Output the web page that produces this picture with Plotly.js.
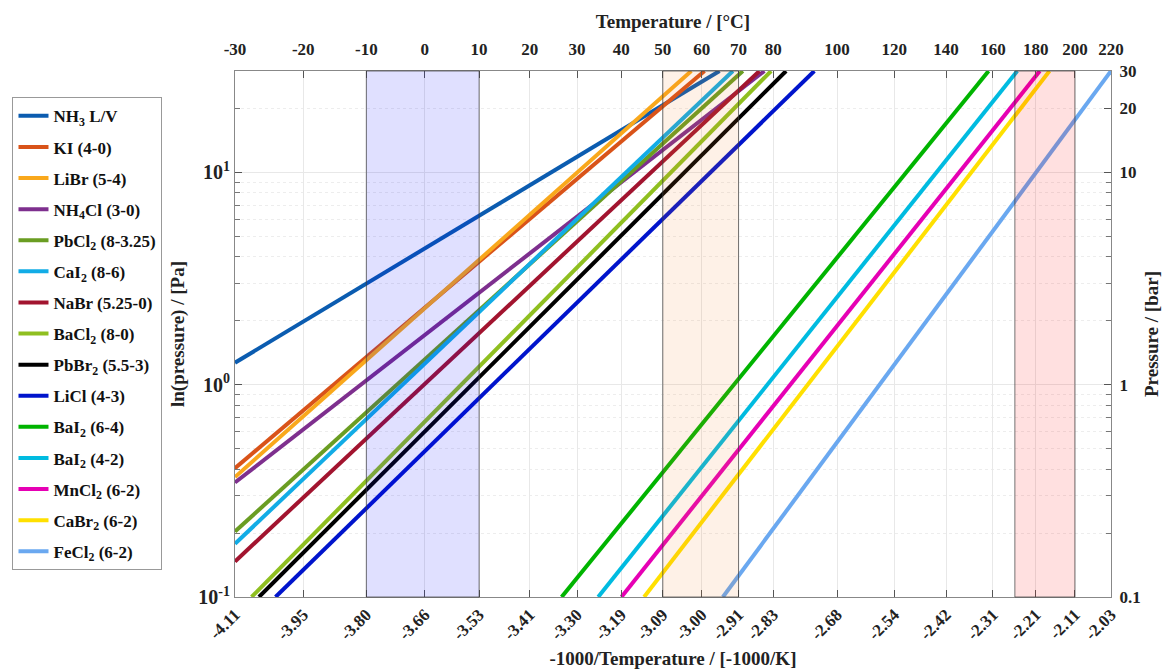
<!DOCTYPE html>
<html>
<head>
<meta charset="utf-8">
<script src="https://cdn.plot.ly/plotly-3.0.1.min.js"></script>
<style>html,body{margin:0;padding:0;background:#fff;}#chart{width:1162px;height:672px;}</style>
</head>
<body>
<div id="chart"></div>
<script>
// ---- data ----
const seriesNames = ['NH<sub>3</sub> L/V', 'KI (4-0)', 'LiBr (5-4)', 'NH<sub>4</sub>Cl (3-0)',
  'PbCl<sub>2</sub> (8-3.25)', 'CaI<sub>2</sub> (8-6)', 'NaBr (5.25-0)', 'BaCl<sub>2</sub> (8-0)',
  'PbBr<sub>2</sub> (5.5-3)', 'LiCl (4-3)', 'BaI<sub>2</sub> (6-4)', 'BaI<sub>2</sub> (4-2)',
  'MnCl<sub>2</sub> (6-2)', 'CaBr<sub>2</sub> (6-2)', 'FeCl<sub>2</sub> (6-2)'];
// start / end points of each line: x = -1000/T [-1000/K], p = pressure [bar]
const xStart = [-4.1127, -4.1127, -4.1127, -4.1127, -4.1127, -4.1127, -4.1127, -4.0733,
  -4.0557, -4.0163, -3.3354, -3.2483, -3.1930, -3.1391, -2.9515];
const xEnd = [-2.9595, -2.9952, -3.0267, -2.8527, -2.9040, -2.9277, -2.8645, -2.8367,
  -2.8011, -2.7339, -2.3191, -2.2509, -2.1972, -2.1742, -2.0278];
const pStart = [1.269, 0.404, 0.367, 0.346, 0.2035, 0.178, 0.147, 0.1, 0.1, 0.1,
  0.1, 0.1, 0.1, 0.1, 0.1];
const pEnd = [30, 30, 30, 30, 30, 30, 30, 30, 30, 30, 30, 30, 30, 30, 30];

// axis ticks
const tempTicksC = [-30, -20, -10, 0, 10, 20, 30, 40, 50, 60, 70, 80, 100, 120, 140, 160, 180, 200, 220];
const invTLabels = ['-4.11', '-3.95', '-3.80', '-3.66', '-3.53', '-3.41', '-3.30', '-3.19', '-3.09',
  '-3.00', '-2.91', '-2.83', '-2.68', '-2.54', '-2.42', '-2.31', '-2.21', '-2.11', '-2.03'];
const leftTickVals = [0.1, 1, 10];
const leftTickText = ['10<sup>-1</sup>', '10<sup>0</sup>', '10<sup>1</sup>'];
const rightTickVals = [0.1, 1, 10, 20, 30];
const rightTickText = ['0.1', '1', '10', '20', '30'];
const minorVals = [0.2, 0.3, 0.4, 0.5, 0.6, 0.7, 0.8, 0.9, 2, 3, 4, 5, 6, 7, 8, 9, 20];
// shaded temperature windows [°C]
const bandsC = [[-10, 10], [50, 70], [170, 200]];
const tempRangeC = [-30, 220];
const pRange = [0.1, 30];

// ---- styles ----
const colors = ['#0b5cb0', '#d95319', '#f9a81c', '#7e2f8e', '#6a9d22', '#12ace6', '#a2142f',
  '#8fbf20', '#000000', '#0014cc', '#00b400', '#00bbe0', '#e600b4', '#ffe000', '#6aa8f0'];
const bandFill = ['rgba(0,0,255,0.12)', 'rgba(245,130,40,0.11)', 'rgba(255,0,0,0.12)'];

const toInv = c => -1000 / (c + 273.15);
const tickPos = tempTicksC.map(toInv);
const xr = tempRangeC.map(toInv);
const yr = pRange.map(Math.log10);

const FONT = 'Liberation Serif, Times New Roman, serif';

const traces = seriesNames.map((n, i) => ({
  type: 'scatter', mode: 'lines', name: n,
  x: [xStart[i], xEnd[i]], y: [pStart[i], pEnd[i]],
  line: {color: colors[i], width: 4},
  legendgroup: 'g' + i, hoverinfo: 'skip'
}));
// invisible helper traces so the secondary axes are drawn
traces.push({type: 'scatter', mode: 'none', x: xr, y: pRange, xaxis: 'x2', yaxis: 'y', showlegend: false, hoverinfo: 'skip'});
traces.push({type: 'scatter', mode: 'none', x: xr, y: pRange, xaxis: 'x', yaxis: 'y2', showlegend: false, hoverinfo: 'skip'});

const shapes = bandsC.map((b, i) => ({
  type: 'rect', xref: 'x', yref: 'paper', x0: toInv(b[0]), x1: toInv(b[1]), y0: 0, y1: 1,
  fillcolor: bandFill[i], line: {color: 'rgba(60,60,60,0.7)', width: 1}, layer: 'above'
}));

const tickFont = {family: FONT, size: 17, color: '#222', weight: 'bold'};
const titleFont = {family: FONT, size: 19, color: '#222', weight: 'bold'};

const layout = {
  width: 1162, height: 672,
  margin: {l: 233, r: 51, t: 71, b: 75, pad: 0},
  paper_bgcolor: '#fff', plot_bgcolor: '#fff',
  font: {family: FONT, size: 16, color: '#222', weight: 'bold'},
  showlegend: true,
  legend: {x: -0.254, xanchor: 'left', y: 0.95, yanchor: 'top',
    bordercolor: '#999', borderwidth: 1, bgcolor: '#fff',
    font: {family: FONT, size: 17, color: '#111', weight: 'bold'},
    traceorder: 'grouped', tracegroupgap: 6, itemwidth: 30},
  xaxis: {range: xr, tickvals: tickPos, ticktext: invTLabels, tickangle: -45,
    ticks: 'inside', ticklen: 7, tickcolor: '#555', showline: true, linecolor: '#888', linewidth: 1,
    showgrid: true, gridcolor: '#e8e8e8', zeroline: false, tickfont: tickFont,
    title: {text: '-1000/Temperature / [-1000/K]', font: titleFont, standoff: 8}},
  xaxis2: {range: xr, overlaying: 'x', side: 'top', tickvals: tickPos, ticktext: tempTicksC.map(String),
    ticks: 'inside', ticklen: 7, tickcolor: '#555', showline: true, linecolor: '#888', linewidth: 1,
    ticklabelstandoff: 8,
    showgrid: false, zeroline: false, tickfont: tickFont,
    title: {text: 'Temperature / [°C]', font: titleFont, standoff: 6}},
  yaxis: {type: 'log', range: yr, tickvals: leftTickVals, ticktext: leftTickText,
    ticks: 'inside', ticklen: 7, tickcolor: '#555', showline: true, linecolor: '#888', linewidth: 1,
    showgrid: true, gridcolor: '#e8e8e8', zeroline: false, tickfont: {family: FONT, size: 20, color: '#222', weight: 'bold'},
    minor: {tickvals: minorVals, ticks: 'inside', ticklen: 5, tickcolor: '#777',
      showgrid: true, gridcolor: '#ededed', griddash: 'dot'},
    title: {text: 'ln(pressure) / [Pa]', font: titleFont, standoff: 8}},
  yaxis2: {type: 'log', range: yr, overlaying: 'y', side: 'right', tickvals: rightTickVals, ticktext: rightTickText,
    ticks: 'inside', ticklen: 7, tickcolor: '#555', showline: true, linecolor: '#888', linewidth: 1,
    ticklabelstandoff: 4,
    showgrid: false, zeroline: false, tickfont: tickFont,
    minor: {tickvals: minorVals, ticks: 'inside', ticklen: 5, tickcolor: '#777', showgrid: false},
    title: {text: 'Pressure / [bar]', font: titleFont, standoff: 6}},
  shapes: shapes
};

Plotly.newPlot('chart', traces, layout, {displayModeBar: false, staticPlot: true});
</script>
</body>
</html>
